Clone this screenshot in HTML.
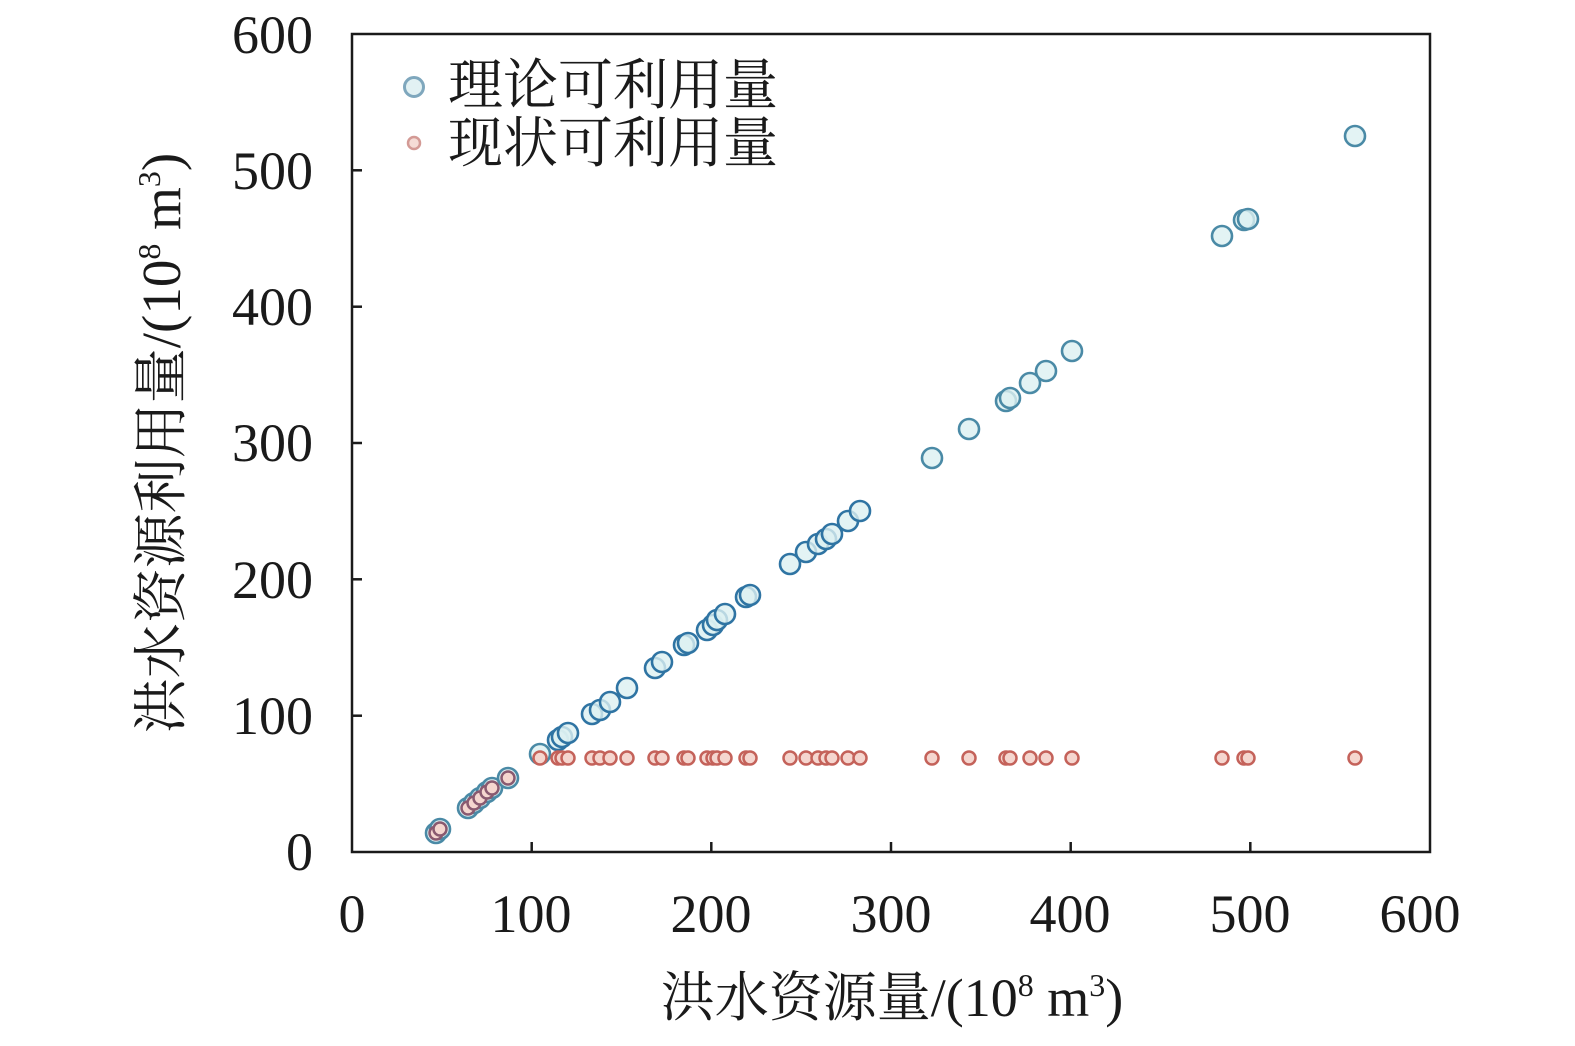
<!DOCTYPE html>
<html><head><meta charset="utf-8"><style>
html,body{margin:0;padding:0;background:#fff;}
svg text{font-family:"Liberation Serif","Noto Serif CJK SC",serif;fill:#1a1a1a;}
</style></head><body>
<svg id="s" width="1575" height="1041" viewBox="0 0 1575 1041" xmlns="http://www.w3.org/2000/svg">
<rect x="352" y="34" width="1078" height="818" fill="none" stroke="#1a1a1a" stroke-width="2.5"/>
<g stroke="#1a1a1a" stroke-width="2.5">
<line x1="531.7" y1="852" x2="531.7" y2="842"/><line x1="711.3" y1="852" x2="711.3" y2="842"/><line x1="891" y1="852" x2="891" y2="842"/><line x1="1070.7" y1="852" x2="1070.7" y2="842"/><line x1="1250.3" y1="852" x2="1250.3" y2="842"/>
<line x1="352" y1="715.7" x2="362" y2="715.7"/><line x1="352" y1="579.3" x2="362" y2="579.3"/><line x1="352" y1="443" x2="362" y2="443"/><line x1="352" y1="306.7" x2="362" y2="306.7"/><line x1="352" y1="170.3" x2="362" y2="170.3"/>
</g>
<g font-size="54" text-anchor="end">
<text x="313" y="870">0</text><text x="313" y="734">100</text><text x="313" y="598">200</text><text x="313" y="461">300</text><text x="313" y="325">400</text><text x="313" y="189">500</text><text x="313" y="53">600</text>
</g>
<g font-size="54" text-anchor="middle">
<text x="352" y="932">0</text><text x="531" y="932">100</text><text x="711" y="932">200</text><text x="891" y="932">300</text><text x="1070" y="932">400</text><text x="1250" y="932">500</text><text x="1420" y="932">600</text>
</g>
<text x="892" y="1016" font-size="54" text-anchor="middle">洪水资源量/(10<tspan font-size="32" dy="-20">8</tspan><tspan dy="20"> m</tspan><tspan font-size="32" dy="-20">3</tspan><tspan dy="20">)</tspan></text>
<text transform="translate(180,443) rotate(-90)" font-size="55" text-anchor="middle">洪水资源利用量/(10<tspan font-size="32" dy="-20">8</tspan><tspan dy="20"> m</tspan><tspan font-size="32" dy="-20">3</tspan><tspan dy="20">)</tspan></text>
<circle cx="414" cy="87" r="9.5" fill="#e2f1f3" stroke="#7fa7bd" stroke-width="3"/>
<circle cx="414" cy="143" r="6" fill="#f5dcd6" stroke="#d39a95" stroke-width="2.5"/>
<text x="448" y="104" font-size="55">理论可利用量</text>
<text x="448" y="162" font-size="55">现状可利用量</text>
<g id="pts"></g>
</svg>
<script>
var b=[[436,833],[440,829],[468,808],[474,803],[480,798],[487,792],[492,788],[508,778],[540,754],[558,740],[562,737],[568,733],[592,714],[600,710],[610,702],[627,688],[655,668],[662,662],[684,645],[688,643],[707,630],[713,625],[717,620],[725,614],[746,597],[750,595],[790,564],[806,552],[818,544],[826,539],[832,534],[848,521],[860,511],[932,458],[969,429],[1006,401],[1010,398],[1030,383],[1046,371],[1072,351],[1222,236],[1244,220],[1248,219],[1355,136]];
var g=document.getElementById('pts'),h='';
b.forEach(function(p){var dark=(p[0]>530&&p[0]<870&&p[1]!=754)?'#2f74a3':'#4a8aa6';h+='<circle cx="'+p[0]+'" cy="'+p[1]+'" r="10" fill="#dcf0f1" fill-opacity="0.8" stroke="'+dark+'" stroke-width="2.6"/>';});
b.forEach(function(p){var y=p[0]<520?p[1]:758;var c=p[0]<520?'#8a5a70':'#c4625a';h+='<circle cx="'+p[0]+'" cy="'+y+'" r="6.5" fill="#f5d6cf" stroke="'+c+'" stroke-width="2.5"/>';});
g.innerHTML=h;
</script>
</body></html>
